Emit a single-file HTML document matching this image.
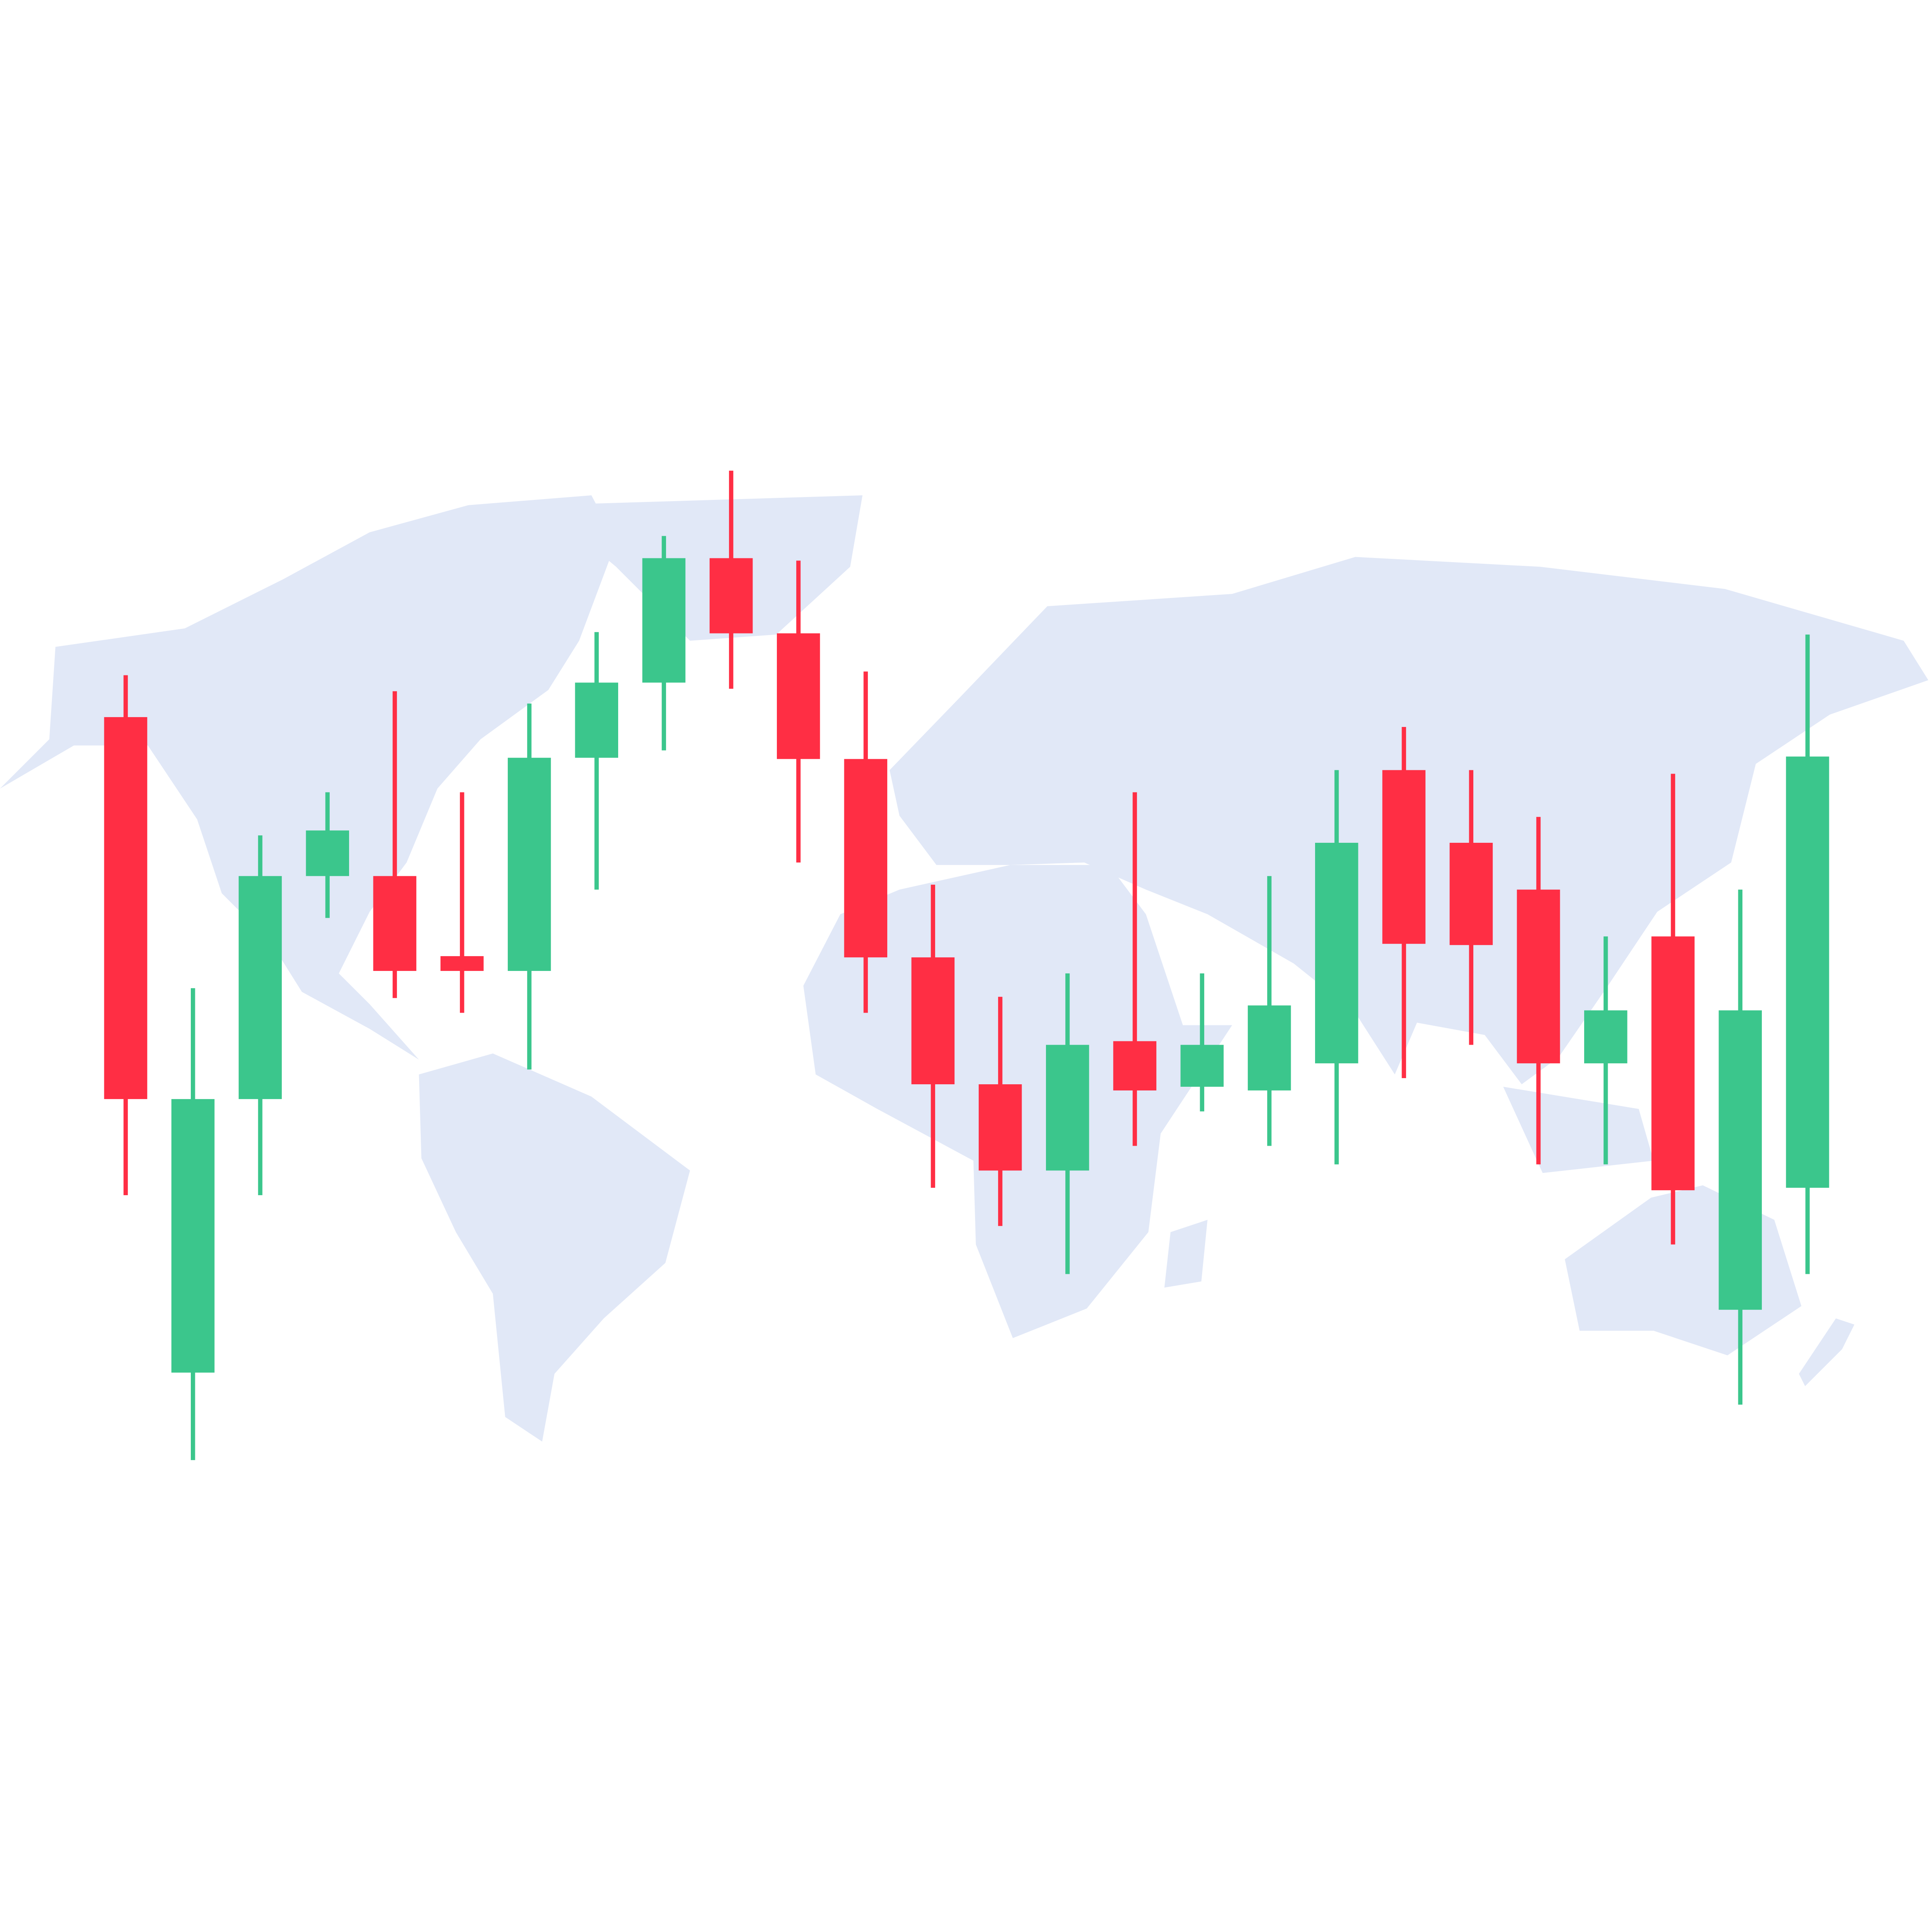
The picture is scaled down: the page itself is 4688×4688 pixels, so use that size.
<!DOCTYPE html>
<html>
<head>
<meta charset="utf-8">
<style>
html,body{margin:0;padding:0;background:#fff;}
svg{display:block;}
</style>
</head>
<body>
<svg id="chart" width="4688" height="4688" viewBox="0 0 1568 1568" xmlns="http://www.w3.org/2000/svg">
  <g id="map" fill="#e1e8f7">
    <polygon points="0,640 40,600 45,525 150,510 230,470 300,432 380,410 480,402 500,440 470,520 445,560 390,600 355,640 330,700 300,740 275,790 300,815 340,860 300,835 245,805 220,765 180,725 160,665 120,605 60,605"/>
    <polygon points="440,410 700,402 690,460 630,515 560,520 500,460"/>
    <polygon points="340,872 400,855 480,890 560,950 540,1025 490,1070 450,1115 440,1170 410,1150 400,1050 370,1000 342,940"/>
    <polygon points="722,625 780,565 850,492 1000,482 1100,452 1250,460 1400,478 1545,520 1565,552 1485,580 1425,620 1405,700 1345,740 1305,800 1265,858 1235,880 1205,840 1150,830 1132,872 1100,822 1050,782 980,742 930,722 880,700 820,702 760,702 730,662"/>
    <polygon points="730,722 820,702 900,702 930,742 960,832 1000,832 942,920 932,1000 882,1062 822,1086 792,1010 790,942 712,900 662,872 652,800 682,742"/>
    <polygon points="1220,882 1330,900 1342,942 1252,952"/>
    <polygon points="1270,1022 1340,972 1382,962 1440,990 1462,1060 1402,1100 1342,1080 1282,1080"/>
    <polygon points="950,1000 980,990 975,1040 945,1045"/>
    <polygon points="1490,1070 1505,1075 1495,1095 1465,1125 1460,1115"/>
  </g>
  <g id="candles"></g>
</svg>
<script>
// values: price units (higher = up); y-pixel = 1200 - value (viewBox units)
const categories = [1,2,3,4,5,6,7,8,9,10,11,12,13,14,15,16,17,18,19,20,21,22,23,24,25,26];
const opens  = [618,86,308,489,489,424,412,585,646,747,686,584,423,320,250,355,318,315,337,575,516,478,337,440,137,236];
const closes = [308,308,489,526,412,412,585,646,747,686,584,423,320,250,352,315,352,384,516,434,433,337,380,234,380,586];
const highs  = [652,398,522,557,639,557,629,687,765,818,745,655,482,391,410,557,410,489,575,610,575,537,440,572,478,685];
const lows   = [230,15,230,455,390,378,332,478,591,641,500,378,236,205,166,270,298,270,255,325,352,255,255,190,60,166];

const X0 = 102, STEP = 54.6, BODY = 35, WICK = 3.5;
function xPos(i){ return X0 + i*STEP; }
function yPos(v){ return 1200 - v; }

const g = document.getElementById('candles');
const NS = 'http://www.w3.org/2000/svg';
for (let i = 0; i < categories.length; i++) {
  const up = closes[i] >= opens[i];
  const col = up ? '#3bc68c' : '#ff2e44';
  const cx = xPos(i);
  const w = document.createElementNS(NS, 'rect');
  w.setAttribute('x', cx - WICK/2);
  w.setAttribute('y', yPos(highs[i]));
  w.setAttribute('width', WICK);
  w.setAttribute('height', yPos(lows[i]) - yPos(highs[i]));
  w.setAttribute('fill', col);
  
  
  g.appendChild(w);
  const b = document.createElementNS(NS, 'rect');
  const top = Math.max(opens[i], closes[i]), bot = Math.min(opens[i], closes[i]);
  b.setAttribute('x', cx - BODY/2);
  b.setAttribute('y', yPos(top));
  b.setAttribute('width', BODY);
  b.setAttribute('height', Math.max(1, yPos(bot) - yPos(top)));
  b.setAttribute('fill', col);
  
  
  g.appendChild(b);
}
</script>
</body>
</html>
